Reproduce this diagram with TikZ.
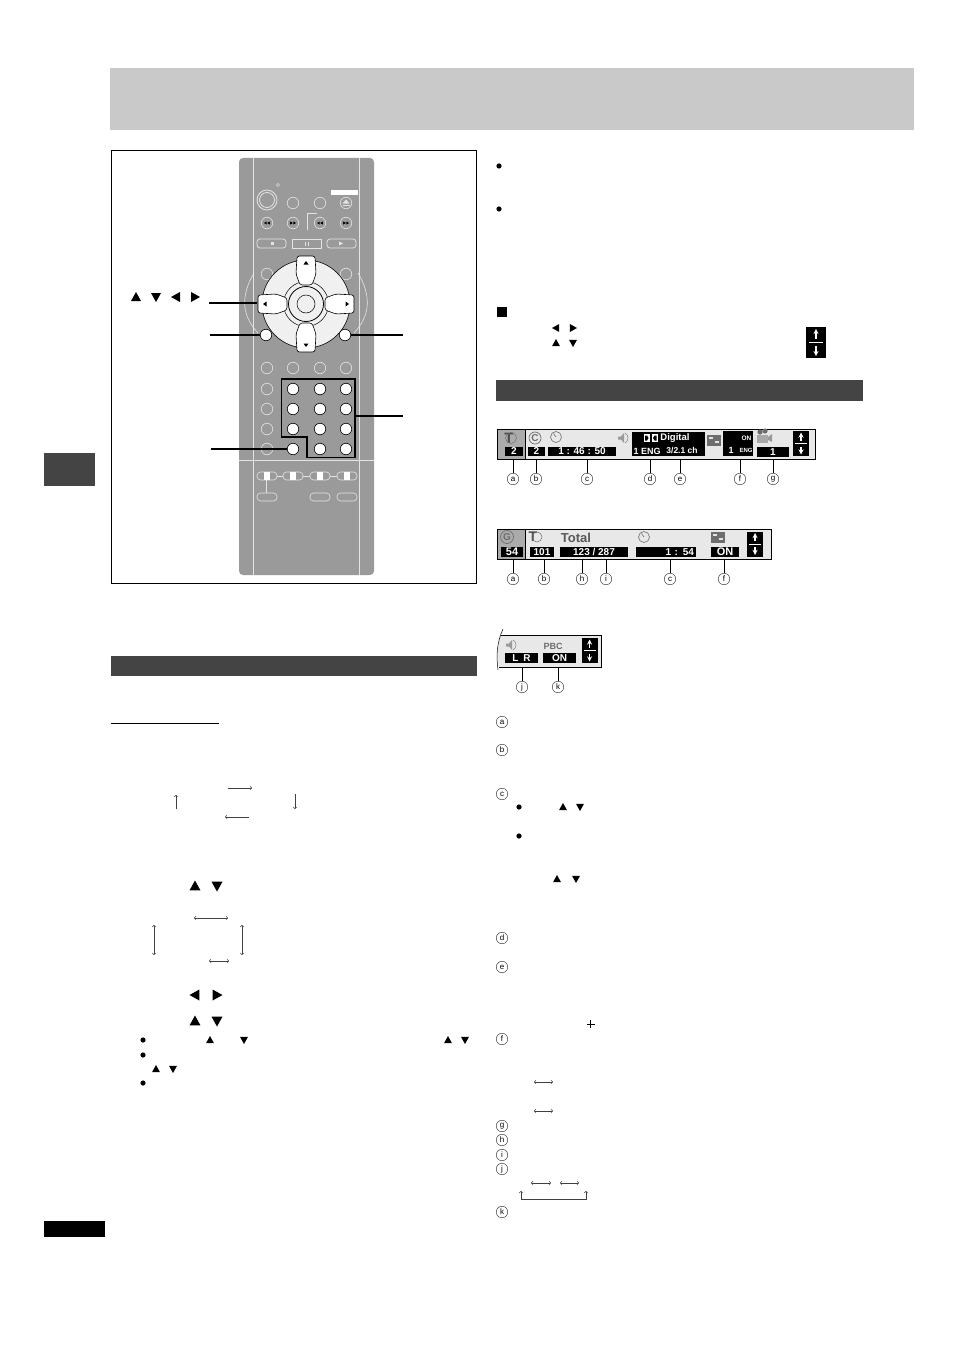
\documentclass[tikz,border=0pt]{standalone}
\usepackage{fontspec}
\setmainfont{Liberation Sans}
\definecolor{headgray}{HTML}{C9C9C9}
\definecolor{bardark}{HTML}{444444}
\definecolor{remotegray}{HTML}{9A9A9A}
\definecolor{linelight}{HTML}{E4E4E4}
\definecolor{panelgray}{HTML}{E8E8E8}
\definecolor{cellgray}{HTML}{ABABAB}
\definecolor{icongray}{HTML}{6E6E6E}
\tikzset{
    btngray/.style={circle, draw=linelight, line width=0.6pt, minimum size=11.5pt, inner sep=0pt},
    btnwhite/.style={circle, draw=black, fill=white, line width=0.6pt, minimum size=11.5pt, inner sep=0pt},
    pill/.style={rounded corners=3.5pt, draw=linelight, line width=0.6pt},
    leader/.style={line width=1.4pt},
    padline/.style={line width=1.2pt},
    tag/.style={circle, draw=black!80, line width=0.45pt, minimum size=11.5pt, inner sep=0pt, font=\fontsize{8}{9}\selectfont},
    dbox/.style={fill=black, text=white, inner sep=0pt, font=\fontsize{10}{11}\selectfont\bfseries},
    thinarrow/.style={line width=0.6pt, draw=black!75},
    grayicon/.style={text=icongray, inner sep=0pt, font=\fontsize{11}{12}\selectfont\bfseries}
}
\newcommand{\tri}[4]{\fill[shift={(#1,#2)},rotate=#3,scale=#4] (0,-1) -- (1,0.8) -- (-1,0.8) -- cycle;}
\newcommand{\dkey}[1]{
    \filldraw[fill=white, draw=black, line width=0.6pt, shift={(306,304)}, rotate=#1, rounded corners=2.5pt]
        (-9,-48) -- (9,-48) -- (10,-30) -- (6,-19) -- (-6,-19) -- (-10,-30) -- cycle;
    \fill[shift={(306,304)}, rotate=#1] (0,-43) -- (2.5,-39.5) -- (-2.5,-39.5) -- cycle;
}
\newcommand{\updown}[3]{
    \begin{scope}[shift={(#1,#2)},scale=#3]
        \fill[black] (-8,-12.5) rectangle (8,12.5);
        \draw[white, line width=1.3pt, -stealth] (0,-3) -- (0,-11);
        \draw[white, line width=1.3pt, -stealth] (0,3) -- (0,11);
        \draw[white, line width=0.8pt] (-6,0) -- (6,0);
    \end{scope}
}
\newcommand{\clockface}[2]{
    \draw[icongray, line width=0.6pt] (#1,#2) circle (5.5);
    \draw[icongray, line width=0.6pt] (#1,#2) -- (#1-2.5,#2-3.5);
}
\newcommand{\speaker}[2]{
    \fill[icongray!70] (#1-4,#2-1.5) -- (#1-1,#2-1.5) -- (#1+2,#2-5) -- (#1+2,#2+5) -- (#1-1,#2+1.5) -- (#1-4,#2+1.5) -- cycle;
    \draw[icongray, line width=0.4pt] (#1+3,#2-5) .. controls (#1+7,#2-3) and (#1+7,#2+3) .. (#1+3,#2+5);
}
\newcommand{\subtitle}[2]{
    \fill[icongray] (#1-7,#2-5) rectangle (#1+7,#2+6);
    \fill[linelight] (#1-5,#2-3) rectangle (#1-1,#2-1);
    \fill[linelight] (#1+1,#2+1) rectangle (#1+5,#2+3);
}
\newcommand{\camera}[2]{
    \fill[icongray!60] (#1-7,#2-2) rectangle (#1+4,#2+6);
    \fill[icongray] (#1-4,#2-5) circle (2.6);
    \fill[icongray] (#1+1,#2-6) circle (2.6);
    \fill[icongray!70] (#1+4,#2) -- (#1+8,#2-3) -- (#1+8,#2+5) -- (#1+4,#2+3) -- cycle;
}
\begin{document}
\begin{tikzpicture}[x=1pt,y=-1pt]
    \useasboundingbox (0,0) rectangle (954,1351);
    \fill[white] (0,0) rectangle (954,1351);
    \fill[headgray] (110,68) rectangle (914,130);
    \fill[bardark] (44,453) rectangle (95,486);
    \fill[black] (44,1221) rectangle (105,1237);
    \fill[bardark] (111,656) rectangle (477,676);
    \fill[bardark] (496,380) rectangle (863,401);
    \draw[line width=0.8pt] (111,723) -- (219,723);
    \draw[line width=0.8pt] (111,150) rectangle (476.5,583);

    \fill[remotegray, rounded corners=4pt] (239,158) rectangle (374,575);
    \draw[linelight, line width=0.6pt] (253,158) -- (253,575);
    \draw[linelight, line width=0.6pt] (359,158) -- (359,575);
    \draw[linelight, line width=0.6pt] (239,460) -- (374,460);
    \draw[linelight, line width=0.6pt] (254,273) .. controls (241,295) and (241,315) .. (258,333);
    \draw[linelight, line width=0.6pt] (358,273) .. controls (371,295) and (371,315) .. (354,333);

    \fill[white] (331,190) rectangle (358,195);
    \draw[linelight, line width=0.5pt] (278,185) circle (1.6);
    \draw[linelight, line width=0.8pt] (267,200) circle (10);
    \draw[linelight, line width=0.8pt] (267,200) circle (7.5);
    \foreach \x/\n in {293/ra, 320/rb, 346/rc}
        \node[btngray] (\n) at (\x,203) {};
    \fill[linelight] (342.5,203.5) -- (349.5,203.5) -- (346,199.5) -- cycle;
    \draw[linelight, line width=0.6pt] (342.5,205.5) -- (349.5,205.5);
    \foreach \x/\n in {267/sa, 293/sb, 320/sc, 346/sd}
        \node[btngray] (\n) at (\x,223) {};
    \foreach \x/\r in {267/90, 320/90} {
        \tri{\x-1.6}{223}{\r}{1.5}
        \tri{\x+1.6}{223}{\r}{1.5}
    }
    \foreach \x/\r in {293/270, 346/270} {
        \tri{\x-1.6}{223}{\r}{1.5}
        \tri{\x+1.6}{223}{\r}{1.5}
    }
    \draw[linelight, line width=0.9pt] (307,230) -- (307,213) -- (317,213);

    \draw[linelight, line width=0.7pt, rounded corners=3pt] (262,239) -- (257,239) -- (257,248) -- (262,248) -- (286,248) -- (286,239) -- cycle;
    \draw[linelight, line width=0.9pt] (292,239) rectangle (321,248);
    \draw[linelight, line width=0.7pt, rounded corners=3pt] (327,239) -- (356,239) -- (356,248) -- (327,248) -- cycle;
    \fill[linelight] (271,242) rectangle (274,245);
    \fill[linelight] (305,241.5) rectangle (306,245.5);
    \fill[linelight] (307.5,241.5) rectangle (308.5,245.5);
    \fill[linelight] (339,241.5) -- (343,243.5) -- (339,245.5) -- cycle;

    \node[btngray] (topl) at (267,274) {};
    \node[btngray] (topr) at (346,274) {};
    \filldraw[fill=white!94!black, draw=black, line width=0.6pt] (306,304) circle (44);
    \draw[line width=0.5pt] (306,304) circle (22.5);
    \draw[line width=0.8pt] (306,304) circle (17.5);
    \draw[line width=0.5pt] (306,304) circle (9);
    \foreach \r in {0, 90, 180, 270} {
        \dkey{\r}
    }

    \node[btnwhite] (btnl) at (266,335) {};
    \node[btnwhite] (btnr) at (345,335) {};

    \foreach \x/\n in {267/ga, 293/gb, 320/gc, 346/gd}
        \node[btngray] (\n) at (\x,368) {};
    \foreach \y/\n in {389/ha, 409/hb, 429/hc, 449/hd}
        \node[btngray] (\n) at (267,\y) {};
    \foreach \y/\n in {389/a, 409/b, 429/c, 449/d} {
        \node[btnwhite] (k1\n) at (293,\y) {};
        \node[btnwhite] (k2\n) at (320,\y) {};
        \node[btnwhite] (k3\n) at (346,\y) {};
    }
    \draw[padline] (281.7,379) -- (355,379) -- (355,457.7) -- (307,457.7) -- (307,437) -- (281.7,437) -- cycle;

    \foreach \x/\n in {257/pa, 283/pb, 310/pc, 337/pd} {
        \draw[pill] (\x,472) rectangle (\x+20,480);
        \fill[white] (\x+7,472) rectangle (\x+13,480);
        \coordinate (\n) at (\x,476);
    }
    \draw[linelight, line width=0.6pt] (277,476) -- (pb);
    \draw[linelight, line width=0.6pt] (303,476) -- (pc);
    \draw[linelight, line width=0.6pt] (330,476) -- (pd);
    \foreach \x in {257, 310, 337}
        \draw[pill] (\x,493) rectangle (\x+20,501);
    \draw[linelight, line width=0.6pt] (266,480) -- (266,493);

    \coordinate (lcursor) at (209,303);
    \coordinate (keyl) at (257,303);
    \coordinate (lret) at (210,335);
    \coordinate (rret) at (403,335);
    \coordinate (padr) at (355,416);
    \coordinate (lnum) at (403,416);
    \coordinate (lzero) at (211,449);
    \draw[leader] (lcursor) -- (keyl);
    \draw[leader] (lret) -- (btnl);
    \draw[leader] (rret) -- (btnr);
    \draw[leader] (padr) -- (lnum);
    \draw[leader] (lzero) -- (k1d);

    \tri{136}{297}{0}{5}
    \tri{156}{297}{180}{5}
    \tri{176}{297}{90}{5}
    \tri{195}{297}{270}{5}

    \draw[thinarrow, ->] (228,788) -- (252,788);
    \draw[thinarrow, ->] (176,809) -- (176,795);
    \draw[thinarrow, ->] (295,794) -- (295,809);
    \draw[thinarrow, ->] (249,817) -- (225,817);
    \tri{195}{886}{0}{5.5}
    \tri{217}{886}{180}{5.5}
    \draw[thinarrow, <->] (194,918) -- (228,918);
    \draw[thinarrow, <->] (154,925) -- (154,955);
    \draw[thinarrow, <->] (242,925) -- (242,955);
    \draw[thinarrow, <->] (209,961) -- (229,961);
    \tri{195}{995}{90}{5.5}
    \tri{217}{995}{270}{5.5}
    \tri{195}{1021}{0}{5.5}
    \tri{217}{1021}{180}{5.5}
    \foreach \y in {1040, 1055, 1083}
        \fill (143,\y) circle (2.6);
    \tri{210}{1040}{0}{4}
    \tri{244}{1040}{180}{4}
    \tri{448}{1040}{0}{4}
    \tri{465}{1040}{180}{4}
    \tri{156}{1069}{0}{4}
    \tri{173}{1069}{180}{4}

    \fill (499,166) circle (2.6);
    \fill (499,209) circle (2.6);
    \fill (497,307) rectangle (507,317);
    \tri{556}{328}{90}{4}
    \tri{573}{328}{270}{4}
    \tri{556}{343}{0}{4}
    \tri{573}{343}{180}{4}
    \updown{816}{342.5}{1.24}

    \node[draw=black, fill=panelgray, line width=0.8pt, minimum width=318pt, minimum height=30pt, inner sep=0pt] (barone) at (656,444) {};
    \filldraw[fill=cellgray, draw=black, line width=0.6pt] (497,429) rectangle (525,459);
    \node[dbox, minimum width=18pt, minimum height=9pt] (onea) at (514,451.5) {2};
    \node[dbox, minimum width=17pt, minimum height=9pt] (oneb) at (536.5,451.5) {2};
    \node[dbox, minimum width=68pt, minimum height=9pt] (onec) at (582,451.5) {1 : 46 : 50};
    \node[dbox, minimum width=73pt, minimum height=24pt] (oned) at (668.5,444) {};
    \node[text=white, inner sep=0pt, font=\fontsize{9.5}{10}\selectfont\bfseries] (onedg) at (675,438) {Digital};
    \fill[white] (643.5,434) rectangle (650,442);
    \fill[white] (651.5,434) rectangle (658,442);
    \fill[black] (645,435.5) -- (647,435.5) .. controls (649,436.5) and (649,439.5) .. (647,440.5) -- (645,440.5) -- cycle;
    \fill[black] (656.5,435.5) -- (654.5,435.5) .. controls (652.5,436.5) and (652.5,439.5) .. (654.5,440.5) -- (656.5,440.5) -- cycle;
    \node[text=white, inner sep=0pt, font=\fontsize{9}{10}\selectfont\bfseries] (oneeng) at (647,451) {1 ENG};
    \node[text=white, inner sep=0pt, font=\fontsize{8.5}{9}\selectfont\bfseries] (onech) at (682,451) {3/2.1 ch};
    \node[dbox, minimum width=30pt, minimum height=25pt] (onef) at (738,443.5) {};
    \node[text=white, inner sep=0pt, font=\fontsize{6.5}{7}\selectfont\bfseries] (onefon) at (746.5,438) {ON};
    \node[text=white, inner sep=0pt, font=\fontsize{9}{10}\selectfont\bfseries] (onefa) at (731,450) {1};
    \node[text=white, inner sep=0pt, font=\fontsize{6}{7}\selectfont\bfseries] (onefb) at (746,450) {ENG};
    \node[dbox, minimum width=32pt, minimum height=10pt] (oneg) at (773,452) {1};
    \updown{801}{443.5}{1}
    \node[grayicon, font=\fontsize{15}{16}\selectfont\bfseries, text=black!70] (onet) at (509,438) {T};
    \draw[icongray, line width=0.5pt] (511,438) circle (5.5);
    \node[grayicon, font=\fontsize{10}{11}\selectfont\bfseries] (onecc) at (535,438) {C};
    \draw[icongray, line width=0.7pt] (535,438) circle (6);
    \clockface{556}{437}
    \speaker{622}{438}
    \subtitle{714}{440}
    \camera{764}{437}
    \foreach \x/\n/\t in {513/ta/a, 536/tb/b, 587/tc/c, 650/td/d, 680/te/e, 740/tf/f, 773/tg/g} {
        \node[tag] (\n) at (\x,479) {\t};
        \draw[line width=0.5pt] (\n) -- (\n |- barone.south);
    }

    \node[draw=black, fill=panelgray, line width=0.8pt, minimum width=274pt, minimum height=30pt, inner sep=0pt] (bartwo) at (634,544) {};
    \filldraw[fill=cellgray, draw=black, line width=0.6pt] (497,529) rectangle (525,559);
    \node[dbox, font=\fontsize{11}{12}\selectfont\bfseries, minimum width=22pt, minimum height=10pt] (twoa) at (512,552) {54};
    \node[dbox, minimum width=24pt, minimum height=10pt] (twob) at (542,552) {101};
    \node[dbox, minimum width=68pt, minimum height=10pt] (twoc) at (594,552) {123 / 287};
    \node[dbox, minimum width=60pt, minimum height=10pt, text width=56pt, align=right] (twod) at (666,552) {1 : 54};
    \node[dbox, font=\fontsize{11}{12}\selectfont\bfseries, minimum width=28pt, minimum height=10pt] (twoe) at (725,552) {ON};
    \updown{755}{544}{1}
    \node[grayicon, font=\fontsize{10}{11}\selectfont\bfseries] (twog) at (507,537) {G};
    \draw[icongray, line width=0.7pt] (507,537) circle (6.5);
    \node[grayicon, font=\fontsize{14}{15}\selectfont\bfseries, text=black!70] (twot) at (533,537) {T};
    \draw[icongray, line width=0.5pt] (537,537) circle (5);
    \node[grayicon, font=\fontsize{13}{14}\selectfont\bfseries, text=black!65] (twototal) at (576,538) {Total};
    \clockface{644}{537}
    \subtitle{718}{537}
    \foreach \x/\n/\t in {513/ua/a, 544/ub/b, 582/uh/h, 606/ui/i, 670/uc/c, 724/uf/f} {
        \node[tag] (\n) at (\x,579) {\t};
        \draw[line width=0.5pt] (\n) -- (\n |- bartwo.south);
    }

    \fill[panelgray] (501,635) -- (601,635) -- (601,667) -- (499,667) .. controls (497,655) and (497,645) .. (501,635) -- cycle;
    \draw[line width=0.8pt] (501,635) -- (601,635) -- (601,667) -- (499,667);
    \draw[line width=0.5pt] (503,629) .. controls (497,642) and (496,655) .. (498,670);
    \node[dbox, minimum width=33pt, minimum height=10pt] (thra) at (521.5,658) {L\hspace{5pt}R};
    \node[dbox, minimum width=33pt, minimum height=10pt] (thrb) at (559.5,658) {ON};
    \updown{589.5}{650.5}{1}
    \speaker{510}{645}
    \node[grayicon, font=\fontsize{9}{10}\selectfont\bfseries] (thrp) at (553,646) {PBC};
    \coordinate (barthr) at (550,667);
    \foreach \x/\n/\t in {522/vj/j, 558/vk/k} {
        \node[tag] (\n) at (\x,687) {\t};
        \draw[line width=0.5pt] (\n) -- (\n |- barthr);
    }

    \foreach \y/\n/\t in {722/la/a, 750/lb/b, 794/lc/c, 938/ld/d, 967/le/e, 1039/lf/f, 1126/lg/g, 1140/lh/h, 1155/li/i, 1169/lj/j, 1212/lk/k}
        \node[tag] (\n) at (502,\y) {\t};
    \fill (519,807) circle (2.6);
    \fill (519,836) circle (2.6);
    \tri{563}{807}{0}{4}
    \tri{580}{807}{180}{4}
    \tri{557}{879}{0}{4}
    \tri{576}{879}{180}{4}
    \draw[line width=0.5pt] (586.5,1024) -- (594.5,1024);
    \draw[line width=0.5pt] (590.5,1020) -- (590.5,1028);
    \draw[thinarrow, <->] (534,1082) -- (553,1082);
    \draw[thinarrow, <->] (534,1111) -- (553,1111);
    \draw[thinarrow, <->] (531,1183) -- (551,1183);
    \draw[thinarrow, <->] (560,1183) -- (579,1183);
    \draw[thinarrow, <->] (521,1191) -- (521,1199) -- (586,1199) -- (586,1191);
\end{tikzpicture}
\end{document}
